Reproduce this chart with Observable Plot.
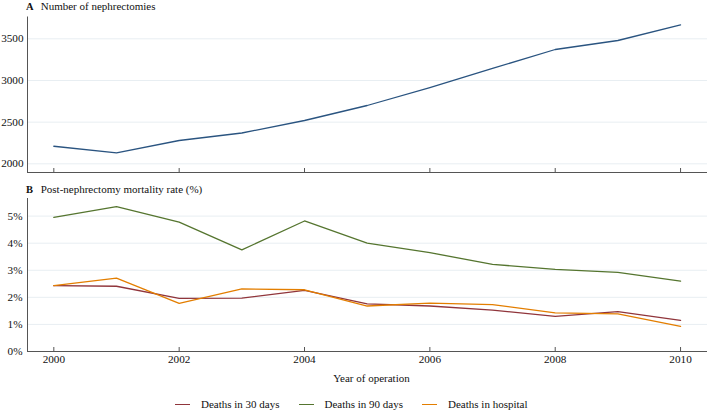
<!DOCTYPE html>
<html>
<head>
<meta charset="utf-8">
<script src="https://cdn.jsdelivr.net/npm/d3@7"></script>
<script src="https://cdn.jsdelivr.net/npm/@observablehq/plot@0.6"></script>
<style>
  html, body { margin: 0; padding: 0; background: #fff; }
  #wrap { position: relative; width: 709px; height: 412px; font-family: "Liberation Serif", "DejaVu Serif", serif; color: #111; overflow: hidden; }
  .ptitle { position: absolute; left: 26px; font-size: 11px; line-height: 14px; white-space: nowrap; }
  .ptitle b { display: inline-block; width: 14.7px; font-size: 10.5px; }
  #xlabel { position: absolute; top: 370px; left: 0; width: 743px; text-align: center; font-size: 11px; line-height: 16px; }
  #legend { position: absolute; top: 396px; left: 175px; font-size: 11px; line-height: 16px; white-space: nowrap; display: flex; align-items: center; }
  .sw { display: inline-block; width: 15px; height: 0; border-top: 1.3px solid; margin-right: 11px; }
  .item { display: flex; align-items: center; margin-right: 19px; }
  #a, #b { position: absolute; left: 0; }
</style>
</head>
<body>
<div id="wrap">
  <div id="a"></div>
  <div id="b"></div>
  <div class="ptitle" style="top:-1px"><b>A</b>Number of nephrectomies</div>
  <div class="ptitle" style="top:182px"><b>B</b>Post-nephrectomy mortality rate (%)</div>
  <div id="xlabel">Year of operation</div>
  <div id="legend"></div>
</div>
<script>
const years = [2000, 2001, 2002, 2003, 2004, 2005, 2006, 2007, 2008, 2009, 2010];
const nephrectomies = [2211, 2132, 2280, 2370, 2520, 2700, 2915, 3145, 3372, 3480, 3668];
const deaths30 = [2.43, 2.41, 1.96, 1.97, 2.26, 1.76, 1.68, 1.53, 1.30, 1.47, 1.15];
const deaths90 = [4.95, 5.35, 4.78, 3.75, 4.82, 4.00, 3.65, 3.22, 3.03, 2.92, 2.60];
const deathsHosp = [2.43, 2.71, 1.78, 2.31, 2.28, 1.68, 1.79, 1.73, 1.43, 1.39, 0.93];
const seriesNames = ["Deaths in 30 days", "Deaths in 90 days", "Deaths in hospital"];
const seriesColors = ["#90353b", "#55752f", "#e37e00"];
const xTicks = [2000, 2002, 2004, 2006, 2008, 2010];
const yTicksA = [2000, 2500, 3000, 3500];
const yTicksB = [0, 1, 2, 3, 4, 5];

const FONT = '"Liberation Serif", "DejaVu Serif", serif';
const xDomain = [1999.58, 2010.43];
const yDomainA = [1896, 3762];
const yDomainB = [0, 5.65];
const axisColor = "#555";
const gridColor = "#e8eef2";

const dataA = years.map((y, i) => ({year: y, value: nephrectomies[i]}));
const dataB = [];
[deaths30, deaths90, deathsHosp].forEach((arr, s) => {
  years.forEach((y, i) => dataB.push({year: y, value: arr[i], series: seriesNames[s]}));
});

const plotA = Plot.plot({
  width: 709, height: 178,
  marginLeft: 27, marginRight: 2, marginTop: 16.5, marginBottom: 6,
  style: {fontFamily: FONT, fontSize: "11.2px", color: "#111", background: "transparent"},
  x: {domain: xDomain, axis: null, label: null},
  y: {domain: yDomainA, axis: null, label: null},
  marks: [
    Plot.gridY(yTicksA, {stroke: gridColor, strokeOpacity: 1, strokeWidth: 1}),
    Plot.axisY(yTicksA, {tickSize: 0, tickPadding: 4, fill: "#111", label: null, tickFormat: d => String(d)}),
    Plot.axisX(xTicks, {tickSize: -4, label: null, tickFormat: () => "", stroke: axisColor}),
    Plot.ruleX([xDomain[0]], {stroke: axisColor, strokeWidth: 1}),
    Plot.ruleY([yDomainA[0]], {stroke: axisColor, strokeWidth: 1}),
    Plot.line(dataA, {x: "year", y: "value", stroke: "#2a5480", strokeWidth: 1.3})
  ]
});
document.getElementById("a").appendChild(plotA);
document.getElementById("a").style.top = "0px";

const plotB = Plot.plot({
  width: 709, height: 191,
  marginLeft: 27, marginRight: 2, marginTop: 18, marginBottom: 20,
  style: {fontFamily: FONT, fontSize: "11.2px", color: "#111", background: "transparent"},
  x: {domain: xDomain, axis: null, label: null},
  y: {domain: yDomainB, axis: null, label: null},
  color: {domain: seriesNames, range: seriesColors},
  marks: [
    Plot.gridY(yTicksB, {stroke: gridColor, strokeOpacity: 1, strokeWidth: 1}),
    Plot.axisY(yTicksB, {tickSize: 0, tickPadding: 5, fill: "#111", label: null, tickFormat: d => d + "%"}),
    Plot.axisX(xTicks, {tickSize: -4, label: null, tickFormat: () => "", stroke: axisColor}),
    Plot.axisX(xTicks, {tickSize: 0, tickPadding: 4, fill: "#111", label: null, tickFormat: d => String(d)}),
    Plot.ruleX([xDomain[0]], {stroke: axisColor, strokeWidth: 1}),
    Plot.ruleY([yDomainB[0]], {stroke: axisColor, strokeWidth: 1}),
    Plot.line(dataB, {x: "year", y: "value", z: "series", stroke: "series", strokeWidth: 1.3})
  ]
});
document.getElementById("b").appendChild(plotB);
document.getElementById("b").style.top = "180px";

const legend = document.getElementById("legend");
seriesNames.forEach((name, i) => {
  const item = document.createElement("span");
  item.className = "item";
  const sw = document.createElement("span");
  sw.className = "sw";
  sw.style.borderTopColor = seriesColors[i];
  item.appendChild(sw);
  item.appendChild(document.createTextNode(name));
  legend.appendChild(item);
});
</script>
</body>
</html>
